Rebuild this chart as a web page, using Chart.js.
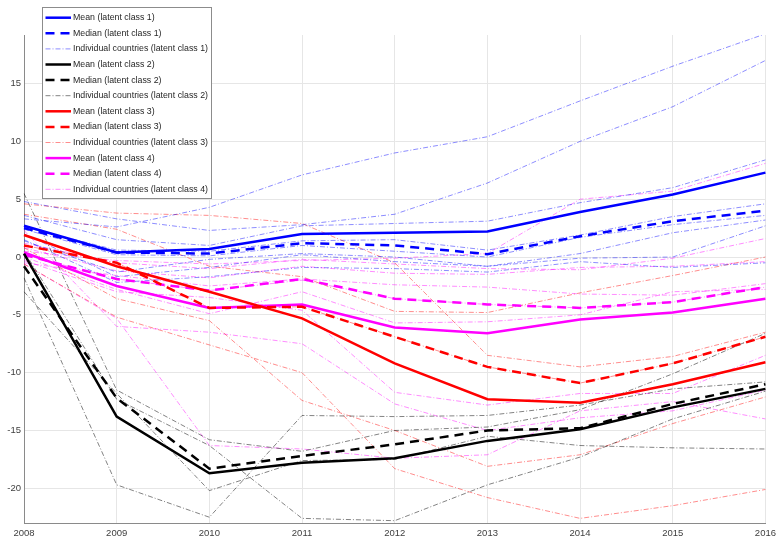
<!DOCTYPE html>
<html>
<head>
<meta charset="utf-8">
<script src="https://cdn.jsdelivr.net/npm/chart.js@4/dist/chart.umd.min.js"></script>
<style>
  html, body { margin: 0; padding: 0; background: #fff; }
  canvas { display: block; }
</style>
</head>
<body>
<canvas id="chart" width="781" height="538"></canvas>
<script>
// growth paths per latent class: mean, median and the individual countries

const years = ['2008', '2009', '2010', '2011', '2012', '2013', '2014', '2015', '2016'];
const yTicks = [-20, -15, -10, -5, 0, 5, 10, 15];

const meanClass1 = [2.7, 0.4, 0.7, 2.0, 2.1, 2.2, 3.9, 5.4, 7.3];
const medianClass1 = [2.5, 0.4, 0.3, 1.2, 1.0, 0.25, 1.8, 3.1, 4.0];
const countriesClass1 = [
  [3.3, 2.6, 4.3, 7.1, 9.0, 10.4, 13.5, 16.5, 19.3],
  [4.8, 3.3, 2.3, 2.8, 3.7, 6.4, 10.0, 13.0, 17.0],
  [3.6, 1.5, 1.0, 2.7, 2.9, 3.1, 4.7, 6.0, 8.4],
  [2.6, 0.6, 0.5, 1.4, 1.5, 0.6, 1.9, 3.5, 4.6],
  [2.4, 0.2, 0.1, 1.0, 0.5, 0.0, 1.7, 2.8, 3.6],
  [1.4, -1.3, -0.2, 0.3, 0.0, -0.8, 0.3, 2.1, 3.2],
  [2.0, -1.7, -0.9, 0.2, -0.4, -0.8, -0.1, 0.0, 2.7],
  [1.5, -2.2, -1.7, -0.9, -1.0, -1.3, -0.4, -0.9, -0.5],
];

const meanClass2 = [0.3, -13.8, -18.7, -17.8, -17.4, -15.9, -14.9, -13.0, -11.4];
const medianClass2 = [-0.8, -12.2, -18.3, -17.2, -16.2, -15.0, -14.8, -12.7, -11.0];
const countriesClass2 = [
  [5.5, -11.5, -15.8, -16.8, -15.0, -14.7, -13.2, -10.1, -6.6],
  [-1.8, -19.7, -22.5, -13.7, -13.8, -13.7, -12.8, -11.4, -10.8],
  [0.5, -12.3, -16.3, -22.6, -22.8, -19.7, -17.3, -14.0, -11.6],
  [-3.0, -11.8, -20.2, -17.6, -17.5, -15.5, -16.3, -16.5, -16.6],
];

const meanClass3 = [1.9, -0.8, -3.0, -5.3, -9.2, -12.3, -12.6, -11.0, -9.1];
const medianClass3 = [1.0, -0.5, -4.4, -4.3, -6.9, -9.5, -10.9, -9.2, -6.9];
const countriesClass3 = [
  [4.6, 3.8, 3.6, 2.9, -0.5, -8.5, -9.5, -8.6, -6.5],
  [3.7, 2.4, -0.8, -1.7, -4.7, -4.8, -3.1, -1.6, 0.0],
  [1.0, -0.5, -4.4, -4.3, -6.9, -9.5, -10.9, -9.2, -6.9],
  [0.8, -3.6, -5.5, -12.4, -15.0, -18.1, -17.1, -14.4, -12.1],
  [-0.6, -5.2, -7.6, -10.0, -18.3, -20.8, -22.6, -21.5, -20.1],
];

const meanClass4 = [0.4, -2.5, -4.4, -4.1, -6.1, -6.6, -5.4, -4.8, -3.6];
const medianClass4 = [0.2, -1.9, -2.9, -1.9, -3.6, -4.1, -4.4, -3.9, -2.6];
const countriesClass4 = [
  [0.5, -0.3, -0.6, -0.3, -0.1, 0.3, 5.0, 5.7, 8.1],
  [1.2, -0.5, -1.0, -0.2, -0.6, -1.0, -1.1, -0.1, 1.6],
  [0.8, -1.2, -1.8, -0.8, -1.4, -1.5, -0.9, -0.8, -0.4],
  [-0.5, -1.6, -2.5, -1.9, -2.4, -2.6, -3.2, -3.3, -2.3],
  [0.2, -1.9, -2.9, -2.0, -3.6, -4.1, -4.4, -3.9, -2.6],
  [0.0, -2.8, -4.9, -3.0, -5.7, -5.6, -5.0, -3.0, -2.8],
  [-0.3, -3.0, -3.5, -4.6, -11.7, -12.8, -11.8, -11.8, -8.5],
  [2.3, -6.0, -6.5, -7.5, -12.7, -15.0, -13.9, -13.3, -11.5],
  [-0.6, -5.3, -16.3, -16.6, -17.4, -17.1, -13.3, -12.5, -14.0],
];

const FONT = '"Liberation Sans", Arial, Helvetica, sans-serif';

const classes = [
  { n: 1, mean: meanClass1, median: medianClass1, countries: countriesClass1, color: '#0000ff', faint: 'rgba(0,0,255,0.5)' },
  { n: 2, mean: meanClass2, median: medianClass2, countries: countriesClass2, color: '#000000', faint: 'rgba(0,0,0,0.55)' },
  { n: 3, mean: meanClass3, median: medianClass3, countries: countriesClass3, color: '#ff0000', faint: 'rgba(255,0,0,0.5)' },
  { n: 4, mean: meanClass4, median: medianClass4, countries: countriesClass4, color: '#ff00ff', faint: 'rgba(255,0,255,0.5)' },
];

const datasets = [];
classes.forEach(c => {
  datasets.push({
    legendLabel: `Mean (latent class ${c.n})`, data: c.mean,
    borderColor: c.color, borderWidth: 2.5, order: 0,
  });
  datasets.push({
    legendLabel: `Median (latent class ${c.n})`, data: c.median,
    borderColor: c.color, borderWidth: 2.5, borderDash: [9, 6], order: 0,
  });
  c.countries.forEach((row, i) => {
    datasets.push({
      legendLabel: i === 0 ? `Individual countries (latent class ${c.n})` : null, data: row,
      borderColor: c.faint, borderWidth: 0.9, borderDash: [5, 2, 1, 2], order: 1,
    });
  });
});

// legend box drawn inside the plot, top-left, like the original
const floatingLegend = {
  id: 'floatingLegend',
  afterDraw(chart) {
    const ctx = chart.ctx;
    const items = chart.data.datasets.filter(d => d.legendLabel);
    const box = { x: 42.5, y: 7.5, w: 169, h: 191 };
    ctx.save();
    ctx.fillStyle = '#ffffff';
    ctx.fillRect(box.x, box.y, box.w, box.h);
    ctx.strokeStyle = '#8c8c8c';
    ctx.lineWidth = 1;
    ctx.strokeRect(box.x, box.y, box.w, box.h);
    items.forEach((d, i) => {
      const y = 17.7 + i * 15.6;
      ctx.beginPath();
      ctx.setLineDash(d.borderDash || []);
      ctx.lineWidth = d.borderWidth;
      ctx.strokeStyle = d.borderColor;
      ctx.moveTo(45.5, y);
      ctx.lineTo(71, y);
      ctx.stroke();
      ctx.setLineDash([]);
      ctx.fillStyle = '#262626';
      ctx.font = `8.8px ${FONT}`;
      ctx.textBaseline = 'middle';
      ctx.fillText(d.legendLabel, 73, y);
    });
    ctx.restore();
  },
};

new Chart(document.getElementById('chart').getContext('2d'), {
  type: 'line',
  data: { labels: years, datasets },
  options: {
    responsive: false, animation: false,
    layout: { padding: { top: 35, right: 14, left: 0, bottom: 0 } },
    elements: { point: { radius: 0 }, line: { tension: 0 } },
    scales: {
      x: {
        type: 'category', offset: false,
        grid: { color: '#e6e6e6', drawTicks: false },
        border: { color: '#8a8a8a' },
        ticks: { color: '#404040', font: { family: FONT, size: 9.5 }, padding: 5, maxRotation: 0, autoSkip: false },
        afterFit(s) { s.height = 15; },
      },
      y: {
        min: -23, max: 19.2,
        grid: { color: '#e6e6e6', drawTicks: false },
        border: { color: '#8a8a8a' },
        ticks: { color: '#404040', font: { family: FONT, size: 9.5 }, padding: 3 },
        afterBuildTicks(s) { s.ticks = yTicks.map(v => ({ value: v })); },
        afterFit(s) { s.width = 24; },
      },
    },
    plugins: {
      legend: { display: false },
      tooltip: { enabled: false },
    },
  },
  plugins: [floatingLegend],
});
</script>
</body>
</html>
